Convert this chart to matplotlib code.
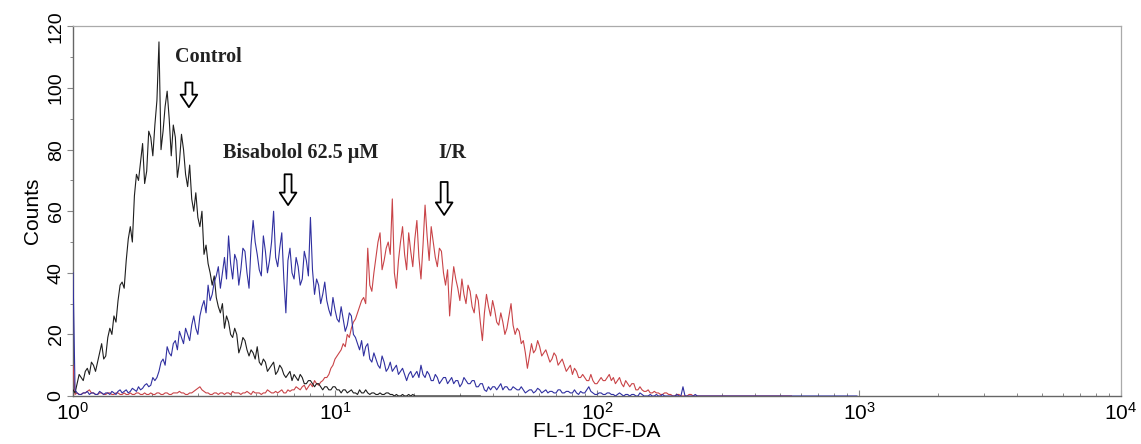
import numpy as np
import matplotlib
matplotlib.use("Agg")
import matplotlib.pyplot as plt
from matplotlib.ticker import LogLocator, MultipleLocator, FixedLocator

plt.rcParams['font.family'] = ['Liberation Sans', 'DejaVu Sans']
plt.rcParams['mathtext.fontset'] = 'custom'
plt.rcParams['mathtext.rm'] = 'Liberation Sans'
plt.rcParams['mathtext.it'] = 'Liberation Sans:italic'
plt.rcParams['mathtext.bf'] = 'Liberation Sans:bold'

# channels: 128 channels per decade of FL-1 fluorescence (log10 units = index/128)
CH_PER_DECADE = 128

control_counts = [
    2, 1, 4, 7, 6, 5, 8, 9, 7, 11, 10, 8, 11, 14, 17, 12, 13, 19, 22, 20,
    26, 24, 31, 36, 37, 35, 44, 51, 55, 50, 65, 72, 70, 76, 82, 69, 73, 86, 84, 78,
    88, 96, 115, 80, 86, 94, 99, 90, 78, 88, 84, 71, 76, 85, 80, 72, 68, 75, 64, 60,
    66, 58, 55, 60, 46, 49, 43, 40, 36, 39, 32, 29, 27, 30, 22, 26, 24, 20, 19, 22,
    20, 14, 16, 19, 18, 15, 13, 15, 14, 12, 16, 11, 10, 12, 11, 8, 9, 10, 11, 7,
    8, 10, 9, 7, 6, 7, 8, 5, 7, 6, 5, 7, 6, 4, 4, 5, 5, 4, 3, 4,
    4, 3, 2, 3, 3, 2, 2, 3, 3, 2, 2, 1, 2, 2, 1, 1.5, 2, 1, 1, 0.5,
    2, 1, 1, 2, 1, 0.5, 1, 1, 0.5, 0.5, 1, 0.5, 0.5, 1, 1, 0.5, 0.5, 0, 0.5, 0,
    0, 0.5, 0, 0, 0.5, 0, 0.5, 0, 0, 0, 0, 0, 0, 0, 0, 0, 0, 0, 0, 0,
    0, 0, 0, 0, 0, 0, 0, 0, 0, 0, 0, 0, 0, 0, 0, 0, 0, 0, 0, 0,
]

bisabolol_counts = [
    40, 2, 1, 0.5, 0.5, 1, 1, 1.5, 0.5, 1, 1, 0.5, 0.5, 1.5, 1, 0.5, 1, 1, 0.5, 1.5,
    1, 0.5, 1.5, 2, 1, 1.5, 2, 1, 1.5, 2.5, 2, 1.5, 3, 2, 2.5, 3.5, 4, 3, 3.5, 6,
    5, 6, 8, 11, 12, 10, 16, 14, 13, 17, 18, 15, 21, 19, 17, 22, 20, 18, 23, 26,
    22, 20, 26, 29, 31, 27, 36, 31, 33, 37, 39, 42, 35, 40, 45, 38, 52, 43, 38, 46,
    44, 36, 41, 48, 47, 40, 35, 49, 57, 50, 46, 41, 39, 52, 47, 40, 44, 50, 60, 45,
    42, 48, 53, 38, 27, 44, 48, 40, 38, 45, 42, 36, 38, 47, 44, 39, 58, 41, 33, 38,
    36, 30, 33, 37, 31, 28, 26, 32, 28, 25, 24, 29, 25, 21, 23, 27, 26, 20, 19, 17,
    15, 18, 13, 16, 17, 12, 11, 14, 12, 10, 9, 13, 11, 8, 9, 11, 8, 9, 10, 7,
    8, 9, 7, 5, 7, 8, 6, 7, 8, 6, 10, 7, 6, 8, 7, 5, 5, 7, 6, 4,
    5, 6, 6, 4, 5, 6, 4, 5, 5, 3, 4, 6, 5, 4, 4, 5, 5, 3, 3, 4,
    4, 2, 1.5, 3, 2, 3, 3, 2, 3, 4, 2, 3, 3, 2, 2, 3, 2.5, 2, 2, 3,
    2, 1, 1.5, 2, 2, 1, 1.5, 2.5, 2, 1, 1.5, 2, 1, 1.5, 1.5, 1, 1, 2, 2, 1,
    1, 1.5, 1.5, 1, 1, 2, 1, 0.5, 1.5, 1, 1, 2, 3, 1.5, 1, 0.5, 0.5, 1, 1, 0.5,
    0.5, 1, 1, 0.5, 0.5, 0, 0.5, 1, 0.5, 0, 0.5, 0.5, 0, 0.5, 0.5, 0, 0, 1, 0.5, 0,
    0, 0, 0.5, 0, 0, 0.5, 0, 0, 0.5, 0, 0, 0, 0, 0, 0, 0.5, 0, 0, 3, 0,
    0, 0, 0, 0, 0.5, 0, 0, 0, 0, 0, 0, 0,
] + [0] * 72

ir_counts = [
    10, 0.5, 1, 0.5, 0.5, 1, 1, 1.5, 2, 1, 1, 0.5, 0.5, 1, 1, 0.5, 0.5, 1, 1, 0.5,
    0.5, 1, 1, 0.5, 0.5, 1, 0.5, 0.5, 1, 0.5, 0.5, 1, 1, 0.5, 0.5, 1, 0.5, 0.5, 1, 0.5,
    0.5, 1, 1, 0.5, 0.5, 1, 1, 0.5, 0.5, 1, 1, 1, 1.5, 1, 1, 0.5, 0.5, 1, 1, 1.5,
    2, 2.5, 3, 2, 1.5, 1, 1, 0.5, 0.5, 1, 1, 0.5, 1, 1, 0.5, 1, 1, 0.5, 1.5, 1,
    1, 1, 0.5, 1, 1, 1.5, 1, 0.5, 1.5, 1, 1, 1, 0.5, 1, 1, 2, 1.5, 1, 1, 1.5,
    1, 1.5, 2, 1, 1, 2, 1.5, 2, 2, 3, 2.5, 2, 3, 3.5, 2, 3, 4, 3, 5, 4,
    3.5, 4.5, 5, 6, 6, 7, 9, 10, 12, 13, 14, 15, 17, 16, 20, 19, 22, 24, 25, 27,
    29, 31, 32, 30, 48, 36, 34, 40, 45, 50, 53, 41, 44, 48, 50, 46, 64, 40, 35, 44,
    50, 55, 46, 41, 53, 47, 42, 51, 57, 45, 38, 49, 62, 52, 44, 55, 50, 45, 42, 48,
    47, 40, 36, 41, 26, 35, 42, 38, 35, 31, 38, 33, 30, 36, 34, 29, 27, 33, 31, 24,
    18, 27, 33, 29, 26, 31, 28, 24, 23, 27, 24, 20, 22, 26, 30, 23, 20, 22, 21, 17,
    18, 14, 9, 13, 17, 14, 15, 18, 16, 13, 14, 15, 13, 11, 12, 14, 13, 10, 11, 12,
    10, 8, 9, 10, 7, 9, 8, 6, 6, 7, 6, 5, 5, 7, 5, 4, 4, 5, 6, 5,
    5, 6, 7, 5, 6, 4, 5, 6, 4, 3, 5, 4, 3, 4, 4, 2, 2, 3, 2, 1.5,
    1.5, 2, 1, 1, 1.5, 1, 1, 0.5, 0.5, 1, 1, 0.5, 0.5, 0, 0, 0.5, 0.5, 0, 0, 0,
    0, 0.5, 0.5, 0, 0, 0, 0, 0, 0, 0, 0, 0,
] + [0] * 40

series_labels = ["Control", "Bisabolol 62.5 \u00b5M", "I/R"]
y_ticks = [0, 20, 40, 60, 80, 100, 120]


def channel_values(counts):
    idx = np.arange(len(counts))
    return 10 ** (idx / CH_PER_DECADE)


W, H = 1141, 444
fig = plt.figure(figsize=(W / 100, H / 100), dpi=100)
ax = fig.add_axes([73 / W, 48 / H, (1121 - 73) / W, (396 - 26.5) / H])

ax.plot(channel_values(ir_counts), ir_counts, color='#c94448', lw=0.8, zorder=3)
ax.plot(channel_values(control_counts), control_counts, color='#1e1e1e', lw=0.8, zorder=4)
ax.plot(channel_values(bisabolol_counts), bisabolol_counts, color='#3030a0', lw=0.8, zorder=5)

ax.set_xscale('log')
ax.set_xlim(1, 1e4)
ax.set_ylim(0, 120)

ax.xaxis.set_major_locator(LogLocator(base=10, numticks=10))
ax.xaxis.set_minor_locator(LogLocator(base=10, subs=np.arange(2, 10), numticks=20))
ax.yaxis.set_major_locator(FixedLocator(y_ticks))
ax.yaxis.set_minor_locator(MultipleLocator(10))

ax.tick_params(axis='x', which='both', direction='in', colors='#888888',
               labelcolor='black', labelsize=15, pad=4)
ax.tick_params(axis='x', which='major', length=4, width=0.8)
ax.tick_params(axis='x', which='minor', length=2.5, width=0.7)
ax.tick_params(axis='y', which='both', direction='out', colors='#888888',
               labelcolor='black', labelsize=14, pad=2)
ax.tick_params(axis='y', which='major', length=4, width=0.8)
ax.tick_params(axis='y', which='minor', length=2.5, width=0.7)
for lab in ax.get_yticklabels():
    lab.set_rotation(90)
    lab.set_va('center')

for side in ['top', 'right']:
    ax.spines[side].set_color('#aaaaaa')
    ax.spines[side].set_linewidth(0.9)
for side in ['left', 'bottom']:
    ax.spines[side].set_color('#666666')
    ax.spines[side].set_linewidth(1.0)

ax.set_ylabel('Counts', fontsize=15, labelpad=4)
ax.set_xlabel('FL-1 DCF-DA', fontsize=15)
# place the x label centre at ~432 px from the top of the figure
ax.xaxis.set_label_coords(0.5, (48 - 13) / (396 - 26.5) * -1)
ax.xaxis.label.set_va('center')

serif = dict(family=['Liberation Serif', 'DejaVu Serif'], fontsize=14.5,
             fontweight='bold', color='#222222', ha='center', va='center')
ax.text(3.30, 110, series_labels[0], **serif)
ax.text(7.42, 79, series_labels[1], **serif)
ax.text(28.0, 79, series_labels[2], **serif)

arrow_style = 'simple,head_length=0.45,head_width=0.6,tail_width=0.25'
arrows = [((2.77, 101.8), (2.77, 93.8)),
          ((6.62, 72.0), (6.62, 62.0)),
          ((26.1, 69.5), (26.1, 58.8))]
for tail, tip in arrows:
    ax.annotate('', xy=tip, xytext=tail, xycoords='data',
                arrowprops=dict(arrowstyle=arrow_style, fc='white', ec='black',
                                lw=1.3, mutation_scale=20, shrinkA=0, shrinkB=0))

fig.savefig('out.png', dpi=100, facecolor='white')
